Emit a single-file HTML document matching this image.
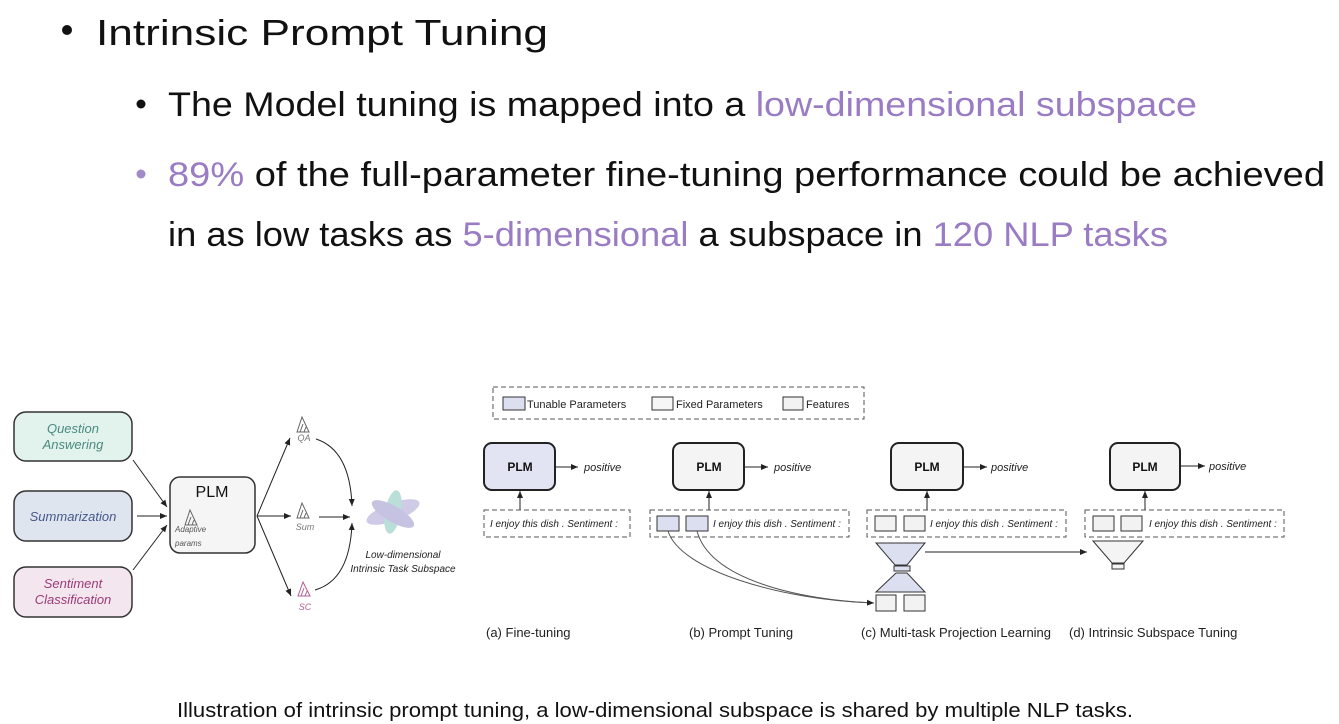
<!DOCTYPE html>
<html><head><meta charset="utf-8"><style>
html,body{margin:0;padding:0;background:#fff;width:1339px;height:724px;overflow:hidden}
svg{display:block;font-family:"Liberation Sans",sans-serif}
</style></head><body>
<svg width="1339" height="724" viewBox="0 0 1339 724" xmlns="http://www.w3.org/2000/svg">
<defs>
<marker id="ar" markerWidth="8" markerHeight="8" refX="7" refY="4" orient="auto" markerUnits="userSpaceOnUse"><path d="M0,1 L7,4 L0,7 Z" fill="#222"/></marker>
<radialGradient id="bl" cx="50%" cy="50%" r="50%"><stop offset="0" stop-color="#b8b0d8"/><stop offset="1" stop-color="#d8d4ec" stop-opacity="0.3"/></radialGradient>
</defs>
<!-- header text -->
<circle cx="67" cy="30" r="5" fill="#111"/>
<text x="96" y="45" font-size="36" fill="#111" textLength="452" lengthAdjust="spacingAndGlyphs">Intrinsic Prompt Tuning</text>
<circle cx="141" cy="104" r="4.5" fill="#111"/>
<text x="168" y="116" font-size="34" fill="#111" textLength="1029" lengthAdjust="spacingAndGlyphs">The Model tuning is mapped into a <tspan fill="#9a7cc4">low-dimensional subspace</tspan></text>
<circle cx="141" cy="174" r="4.5" fill="#a08ac8"/>
<text x="168" y="186" font-size="34" fill="#111" textLength="1157" lengthAdjust="spacingAndGlyphs"><tspan fill="#9a7cc4">89%</tspan> of the full-parameter fine-tuning performance could be achieved</text>
<text x="168" y="246" font-size="34" fill="#111" textLength="1000" lengthAdjust="spacingAndGlyphs">in as low tasks as <tspan fill="#9a7cc4">5-dimensional</tspan> a subspace in <tspan fill="#9a7cc4">120 NLP tasks</tspan></text>

<!-- left diagram -->
<g stroke="#333" stroke-width="1.5">
<rect x="14" y="412" width="118" height="49" rx="12" fill="#e2f3ee"/>
<rect x="14" y="491" width="118" height="50" rx="12" fill="#dfe5ef"/>
<rect x="14" y="567" width="118" height="50" rx="12" fill="#f4e6ef"/>
<rect x="170" y="477" width="85" height="76" rx="10" fill="#f5f5f5"/>
</g>
<g font-style="italic" font-size="13" text-anchor="middle">
<text x="73" y="433" fill="#4a8a7e">Question</text><text x="73" y="449" fill="#4a8a7e">Answering</text>
<text x="73" y="521" fill="#45588a">Summarization</text>
<text x="73" y="588" fill="#9a3b78">Sentiment</text><text x="73" y="604" fill="#9a3b78">Classification</text>
</g>
<text x="212" y="497" font-size="16" text-anchor="middle" fill="#111">PLM</text>
<g fill="none" stroke="#666" stroke-width="1">
<path d="M185,525 L190,510 L197,525 Z M188,525 L191,517 M192,525 L194,520"/>
<path d="M297,432 L302,417 L309,432 Z M300,432 L303,424 M304,432 L306,427"/>
<path d="M297,518 L302,503 L309,518 Z M300,518 L303,510 M304,518 L306,513"/>
<path d="M298,596 L303,582 L310,596 Z M301,596 L304,588 M305,596 L307,591" stroke="#b06090"/>
</g>
<text x="175" y="532" font-size="8" font-style="italic" fill="#555">Adaptive</text>
<text x="175" y="546" font-size="8" font-style="italic" fill="#555">params</text>
<g font-size="9" font-style="italic" text-anchor="middle">
<text x="304" y="441" fill="#777">QA</text><text x="305" y="530" fill="#777">Sum</text><text x="305" y="610" fill="#b06090">SC</text>
</g>
<g stroke="#222" stroke-width="1" fill="none" marker-end="url(#ar)">
<path d="M133,460 L167,507"/><path d="M137,516 L167,516"/><path d="M133,570 L167,525"/>
<path d="M257,516 L290,438"/><path d="M257,516 L291,516"/><path d="M257,516 L291,596"/>
<path d="M316,439 Q350,450 352,506"/><path d="M319,517 L350,517"/><path d="M315,590 Q350,580 352,523"/>
</g>
<g opacity="0.8">
<ellipse cx="393" cy="512" rx="28" ry="9" fill="#c4bde0" transform="rotate(-20 393 512)"/>
<ellipse cx="393" cy="512" rx="8" ry="22" fill="#a9d6cf" transform="rotate(10 393 512)"/>
<ellipse cx="393" cy="514" rx="24" ry="8" fill="#b8b4dc" transform="rotate(30 393 514)"/>
</g>
<g font-size="10" font-style="italic" text-anchor="middle" fill="#222">
<text x="403" y="558">Low-dimensional</text><text x="403" y="572">Intrinsic Task Subspace</text>
</g>

<!-- right diagram legend -->
<rect x="493" y="387" width="371" height="32" fill="none" stroke="#555" stroke-dasharray="5,3"/>
<g stroke="#333" stroke-width="1">
<rect x="503" y="397" width="22" height="13" fill="#dcdff0"/>
<rect x="652" y="397" width="21" height="13" fill="#f6f6f6"/>
<rect x="783" y="397" width="20" height="13" fill="#f2f2f2"/>
</g>
<g font-size="11" fill="#222">
<text x="527" y="408">Tunable Parameters</text><text x="676" y="408">Fixed Parameters</text><text x="806" y="408">Features</text>
</g>
<!-- PLM boxes -->
<g stroke="#222" stroke-width="2">
<rect x="484" y="443" width="71" height="47" rx="8" fill="#e2e4f4"/>
<rect x="673" y="443" width="71" height="47" rx="8" fill="#f4f4f4"/>
<rect x="891" y="443" width="72" height="47" rx="8" fill="#f4f4f4"/>
<rect x="1110" y="443" width="70" height="47" rx="8" fill="#f4f4f4"/>
</g>
<g font-size="12" font-weight="bold" text-anchor="middle" fill="#111">
<text x="520" y="471">PLM</text><text x="709" y="471">PLM</text><text x="927" y="471">PLM</text><text x="1145" y="471">PLM</text>
</g>
<g stroke="#222" stroke-width="1" marker-end="url(#ar)">
<path d="M555,467 L578,467"/><path d="M744,467 L768,467"/><path d="M963,467 L987,467"/><path d="M1180,466 L1205,466"/>
<path d="M520,510 L520,491"/><path d="M709,510 L709,491"/><path d="M927,510 L927,491"/><path d="M1145,510 L1145,491"/>
<path d="M925,552 L1087,552"/>
</g>
<g font-size="11" font-style="italic" fill="#222">
<text x="584" y="471">positive</text><text x="774" y="471">positive</text><text x="991" y="471">positive</text><text x="1209" y="470">positive</text>
</g>
<g fill="none" stroke="#555" stroke-dasharray="5,3">
<rect x="484" y="510" width="146" height="27"/><rect x="650" y="510" width="199" height="27"/>
<rect x="867" y="510" width="199" height="27"/><rect x="1085" y="510" width="199" height="27"/>
</g>
<g stroke="#333" stroke-width="1">
<rect x="657" y="516" width="22" height="15" fill="#dcdff0"/><rect x="686" y="516" width="22" height="15" fill="#dcdff0"/>
<rect x="875" y="516" width="21" height="15" fill="#f2f2f2"/><rect x="904" y="516" width="21" height="15" fill="#f2f2f2"/>
<rect x="1093" y="516" width="21" height="15" fill="#f2f2f2"/><rect x="1121" y="516" width="21" height="15" fill="#f2f2f2"/>
<path d="M876,543 L925,543 L907,565 L895,565 Z" fill="#dcdff0"/>
<rect x="894" y="566" width="16" height="5" fill="#dcdff0"/>
<path d="M896,573 L907,573 L925,592 L876,592 Z" fill="#dcdff0"/>
<rect x="876" y="595" width="20" height="16" fill="#f2f2f2"/><rect x="904" y="595" width="21" height="16" fill="#f2f2f2"/>
<path d="M1093,541 L1143,541 L1124,563 L1112,563 Z" fill="#f4f4f4"/>
<rect x="1112" y="564" width="12" height="5" fill="#f4f4f4"/>
</g>
<g font-size="10" font-style="italic" fill="#222">
<text x="490" y="527">I enjoy this dish . Sentiment :</text>
<text x="713" y="527">I enjoy this dish . Sentiment :</text>
<text x="930" y="527">I enjoy this dish . Sentiment :</text>
<text x="1149" y="527">I enjoy this dish . Sentiment :</text>
</g>
<g fill="none" stroke="#555" stroke-width="1">
<path d="M668,531 C680,570 780,600 874,603"/>
<path d="M697,531 C710,580 800,600 874,603" marker-end="url(#ar)"/>
</g>
<g font-size="13" fill="#222">
<text x="486" y="637">(a) Fine-tuning</text><text x="689" y="637">(b) Prompt Tuning</text>
<text x="861" y="637">(c) Multi-task Projection Learning</text><text x="1069" y="637">(d) Intrinsic Subspace Tuning</text>
</g>
<text x="177" y="717" font-size="20" fill="#111" textLength="956" lengthAdjust="spacingAndGlyphs">Illustration of intrinsic prompt tuning, a low-dimensional subspace is shared by multiple NLP tasks.</text>
</svg>
</body></html>
